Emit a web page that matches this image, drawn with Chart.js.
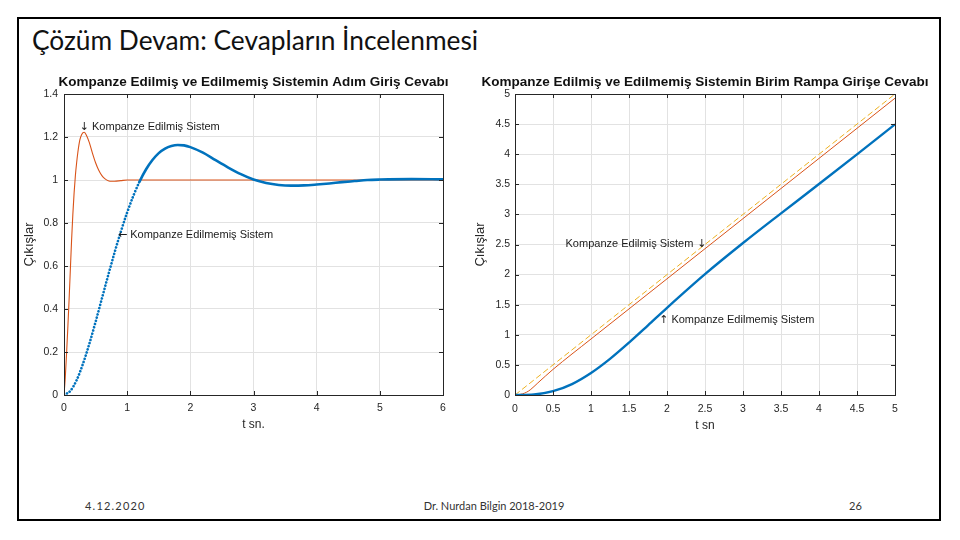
<!DOCTYPE html>
<html><head><meta charset="utf-8">
<script src="https://cdn.jsdelivr.net/npm/chart.js@4.4.0/dist/chart.umd.min.js"></script>
<style>
body{margin:0;width:960px;height:540px;background:#fff;position:relative;overflow:hidden}
#frame{position:absolute;left:17px;top:17px;width:920px;height:500px;border:2px solid #000;box-sizing:content-box}
#title{position:absolute;left:32px;top:21px;font-family:Lato,'Open Sans',sans-serif;font-size:26.3px;line-height:38px;color:#111;white-space:nowrap}
.foot{position:absolute;top:498px;font-family:Lato,'Open Sans',sans-serif;font-size:11px;line-height:16px;color:#333;white-space:nowrap}
canvas{position:absolute}
</style></head>
<body>
<div id="frame"></div>
<div id="title">Çözüm Devam: Cevapların İncelenmesi</div>
<div class="foot" style="left:85px;letter-spacing:1.2px">4.12.2020</div>
<div class="foot" style="left:394px;width:200px;text-align:center">Dr. Nurdan Bilgin 2018-2019</div>
<div class="foot" style="left:849px">26</div>
<canvas id="c1" width="440" height="370" style="left:20px;top:70px"></canvas>
<canvas id="c2" width="460" height="370" style="left:470px;top:70px"></canvas>
<script>
// ---- Left chart: step response ----
const stepTicksX = [0,1,2,3,4,5,6];
const stepTicksY = [0,0.2,0.4,0.6,0.8,1,1.2,1.4];
const stepT = [0,0.1,0.2,0.3,0.4,0.5,0.6,0.7,0.8,0.9,1.0,1.1,1.2,1.3,1.4,1.5,1.6,1.7,1.8,1.9,2.0,2.2,2.4,2.6,2.8,3.0,3.2,3.4,3.6,3.8,4.0,4.2,4.4,4.6,4.8,5.0,5.5,6.0];
const stepUncomp = [0,0.019,0.069,0.145,0.237,0.340,0.449,0.557,0.662,0.760,0.849,0.928,0.995,1.050,1.093,1.125,1.146,1.158,1.163,1.161,1.153,1.127,1.092,1.058,1.027,1.002,0.986,0.977,0.974,0.975,0.979,0.984,0.990,0.995,1.000,1.002,1.004,1.003];
const stepCompT = [0,0.02,0.04,0.06,0.08,0.1,0.12,0.14,0.16,0.18,0.2,0.22,0.25,0.28,0.32,0.36,0.4,0.45,0.5,0.55,0.6,0.65,0.7,0.75,0.8,0.9,1.0,2,3,4,5,6];
const stepComp = [0,0.08,0.19,0.31,0.44,0.58,0.72,0.84,0.94,1.02,1.08,1.13,1.185,1.212,1.222,1.205,1.175,1.125,1.08,1.045,1.02,1.005,0.997,0.994,0.994,0.997,1.0,1.0,1.0,1.0,1.0,1.0];

// ---- Right chart: ramp response ----
const rampTicksX = [0,0.5,1,1.5,2,2.5,3,3.5,4,4.5,5];
const rampTicksY = [0,0.5,1,1.5,2,2.5,3,3.5,4,4.5,5];
const rampInT = [0,5];
const rampIn = [0,5];
const rampUncompT = [0,0.25,0.5,0.75,1,1.25,1.5,1.75,2,2.5,3,3.5,4,4.5,5];
const rampUncomp = [0,0.009,0.063,0.182,0.366,0.601,0.871,1.158,1.448,2.007,2.524,3.017,3.504,3.997,4.496];
const rampCompT = [0,0.05,0.1,0.15,0.2,0.3,0.5,1,2,3,4,5];
const rampComp = [0,0.004,0.02,0.045,0.085,0.2,0.425,0.93,1.93,2.93,3.93,4.93];

const leftTitle = 'Kompanze Edilmiş ve Edilmemiş Sistemin Adım Giriş Cevabı';
const rightTitle = 'Kompanze Edilmiş ve Edilmemiş Sistemin Birim Rampa Girişe Cevabı';
const leftNotes = [
  {x:0.25, y:1.245, arrow:'↓', text:'Kompanze Edilmiş Sistem', side:'left'},
  {x:0.855, y:0.744, arrow:'←', text:'Kompanze Edilmemiş Sistem', side:'left'}
];
const rightNotes = [
  {x:2.52, y:2.51, arrow:'↓', text:'Kompanze Edilmiş Sistem', side:'right'},
  {x:1.897, y:1.246, arrow:'↑', text:'Kompanze Edilmemiş Sistem', side:'left'}
];

const BLUE='#0072BD', ORANGE='#D95319', YELLOW='#EDB120';
const pts = (xs, ys) => xs.map((x,i)=>({x:x, y:ys[i]}));
const FONT='"Liberation Sans", Arial, sans-serif';

const deco = {
  id:'deco',
  afterDatasetsDraw(chart, args, opts){
    const {ctx, chartArea:a, scales:{x, y}} = chart;
    ctx.save();
    ctx.strokeStyle='#262626'; ctx.lineWidth=1;
    ctx.strokeRect(Math.round(a.left)+0.5, Math.round(a.top)+0.5, Math.round(a.right-a.left), Math.round(a.bottom-a.top));
    ctx.beginPath();
    x.ticks.forEach(t=>{ const px=Math.round(x.getPixelForValue(t.value))+0.5;
      ctx.moveTo(px,a.bottom); ctx.lineTo(px,a.bottom-4); ctx.moveTo(px,a.top); ctx.lineTo(px,a.top+4); });
    y.ticks.forEach(t=>{ const py=Math.round(y.getPixelForValue(t.value))+0.5;
      ctx.moveTo(a.left,py); ctx.lineTo(a.left+4,py); ctx.moveTo(a.right,py); ctx.lineTo(a.right-4,py); });
    ctx.stroke();
    ctx.fillStyle='#111';
    ctx.font='bold 13.5px '+FONT;
    ctx.textAlign='center'; ctx.textBaseline='middle';
    ctx.fillText(opts.title, (a.left+a.right)/2, a.top-12);
    ctx.fillStyle='#1a1a1a';
    ctx.textAlign='left';
    opts.notes.forEach(n=>{
      const px=x.getPixelForValue(n.x), py=y.getPixelForValue(n.y);
      ctx.font='11px "DejaVu Sans", sans-serif';
      const aw=ctx.measureText(n.arrow).width;
      ctx.font='11px '+FONT;
      const tw=ctx.measureText(n.text).width;
      let sx = n.side==='left' ? px : px-(aw+4+tw);
      if(n.side==='left'){
        ctx.font='11px "DejaVu Sans", sans-serif'; ctx.fillText(n.arrow, sx, py);
        ctx.font='11px '+FONT; ctx.fillText(n.text, sx+aw+3, py);
      } else {
        ctx.font='11px '+FONT; ctx.fillText(n.text, sx, py);
        ctx.font='11px "DejaVu Sans", sans-serif'; ctx.fillText(n.arrow, sx+tw+4, py);
      }
    });
    ctx.restore();
  }
};

function axisOpts(min,max,ticksArr,title,isY,w,pad,titlePad){
  return {
    type:'linear', min:min, max:max,
    afterBuildTicks: s => { s.ticks = ticksArr.map(v=>({value:v})); },
    afterFit: s => { if(isY) s.width=w; else s.height=w; },
    grid:{color:'#e2e2e2', drawTicks:false, lineWidth:1},
    border:{display:false},
    ticks:{color:'#262626', padding:pad, font:{family:FONT, size:10.5},
      callback: v => String(+v.toFixed(2))},
    title:{display:true, text:title, color:'#262626', padding:titlePad,
      font:{family:FONT, size: isY ? 13 : 12}}
  };
}

Chart.defaults.animation=false;

new Chart(document.getElementById('c1'), {
  type:'line',
  data:{datasets:[
    {data:pts(stepT,stepUncomp), borderColor:BLUE, borderWidth:2.6, pointRadius:0, cubicInterpolationMode:'monotone',
      borderCapStyle:'round',
      segment:{borderDash: c => c.p1.parsed.x <= 1.25 ? [0.1,3.2] : undefined}},
    {data:pts(stepCompT,stepComp), borderColor:ORANGE, borderWidth:1.1, pointRadius:0, cubicInterpolationMode:'monotone'}
  ]},
  options:{
    responsive:false, devicePixelRatio:1,
    layout:{padding:{top:24,left:0,right:17,bottom:0}},
    plugins:{legend:{display:false}, tooltip:{enabled:false},
      deco:{title:leftTitle, notes:leftNotes}},
    scales:{
      x:axisOpts(0,6,stepTicksX,'t sn.',false,45,7,{top:0,bottom:8}),
      y:axisOpts(0,1.4,stepTicksY,'Çıkışlar',true,44,6,{top:2,bottom:0})
    }
  },
  plugins:[deco]
});

new Chart(document.getElementById('c2'), {
  type:'line',
  data:{datasets:[
    {data:pts(rampUncompT,rampUncomp), borderColor:BLUE, borderWidth:2.4, pointRadius:0, cubicInterpolationMode:'monotone'},
    {data:pts(rampInT,rampIn), borderColor:YELLOW, borderWidth:1, borderDash:[6,3], pointRadius:0},
    {data:pts(rampCompT,rampComp), borderColor:ORANGE, borderWidth:1, pointRadius:0, cubicInterpolationMode:'monotone'}
  ]},
  options:{
    responsive:false, devicePixelRatio:1,
    layout:{padding:{top:24,left:0,right:35,bottom:0}},
    plugins:{legend:{display:false}, tooltip:{enabled:false},
      deco:{title:rightTitle, notes:rightNotes}},
    scales:{
      x:axisOpts(0,5,rampTicksX,'t sn',false,45,8,{top:0,bottom:7}),
      y:axisOpts(0,5,rampTicksY,'Çıkışlar',true,45,5,{top:3,bottom:0})
    }
  },
  plugins:[deco]
});
</script>
</body></html>
